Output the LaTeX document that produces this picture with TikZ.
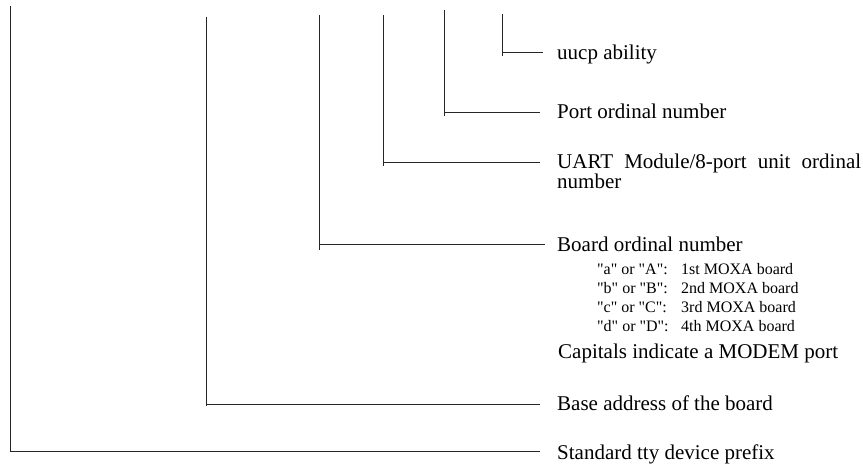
\documentclass[tikz,border=0pt]{standalone}
\usepackage{fontspec}
\setmainfont{Liberation Serif}
\newfontfamily\plainserif{Liberation Serif}
\begin{document}
\begin{tikzpicture}[x=1pt,y=-1pt,
  lead/.style={line width=1pt,draw=black!85},
  biglabel/.style={anchor=base west,inner sep=0pt,font=\fontsize{21}{20}\selectfont},
  smalllabel/.style={anchor=base west,inner sep=0pt,font=\plainserif\fontsize{16}{18}\selectfont}]
\useasboundingbox (0,0) rectangle (863,466);
% label nodes
\node[biglabel] (uucp) at (557,59) {uucp ability};
\node[biglabel] (port) at (557,118) {Port ordinal number};
\node[biglabel] (uart) at (557,168) {\hbox to 304pt{UART\hfil\ Module/8-port\hfil\ unit\hfil\ ordinal}};
\node[biglabel] (uart2) at (557,188) {number};
\node[biglabel] (board) at (557,251) {Board ordinal number};
\node[smalllabel] (ra) at (597,274) {"a" or "A":};
\node[smalllabel] (rb) at (597,293) {"b" or "B":};
\node[smalllabel] (rc) at (597,312) {"c" or "C":};
\node[smalllabel] (rd) at (597,331) {"d" or "D":};
\node[smalllabel] (sa) at (681,274) {1st MOXA board};
\node[smalllabel] (sb) at (681,293) {2nd MOXA board};
\node[smalllabel] (sc) at (681,312) {3rd MOXA board};
\node[smalllabel] (sd) at (681,331) {4th MOXA board};
\node[biglabel] (caps) at (558,358) {Capitals indicate a MODEM port};
\node[biglabel] (base) at (557,410) {Base address of the board};
\node[biglabel] (std) at (557,459) {Standard tty device prefix};
% connector points
\coordinate (t1) at (10,6);    \coordinate (e1) at (540,451);
\coordinate (t2) at (206,17);  \coordinate (b2) at (206,406); \coordinate (c2) at (206,404); \coordinate (e2) at (540,404);
\coordinate (t3) at (319,15);  \coordinate (b3) at (319,250); \coordinate (c3) at (319,244); \coordinate (e3) at (545,244);
\coordinate (t4) at (383,15);  \coordinate (b4) at (383,166); \coordinate (c4) at (383,162); \coordinate (e4) at (540,162);
\coordinate (t5) at (444,10);  \coordinate (b5) at (444,116); \coordinate (c5) at (444,112); \coordinate (e5) at (540,112);
\coordinate (t6) at (502,14);  \coordinate (b6) at (502,56);  \coordinate (c6) at (502,52.7); \coordinate (e6) at (543,52.7);
% connectors
\draw[lead] (t1) |- (e1);
\draw[lead] (t2) -- (b2); \draw[lead] (c2) -- (e2);
\draw[lead] (t3) -- (b3); \draw[lead] (c3) -- (e3);
\draw[lead] (t4) -- (b4); \draw[lead] (c4) -- (e4);
\draw[lead] (t5) -- (b5); \draw[lead] (c5) -- (e5);
\draw[lead] (t6) -- (b6); \draw[lead] (c6) -- (e6);
\end{tikzpicture}
\end{document}
